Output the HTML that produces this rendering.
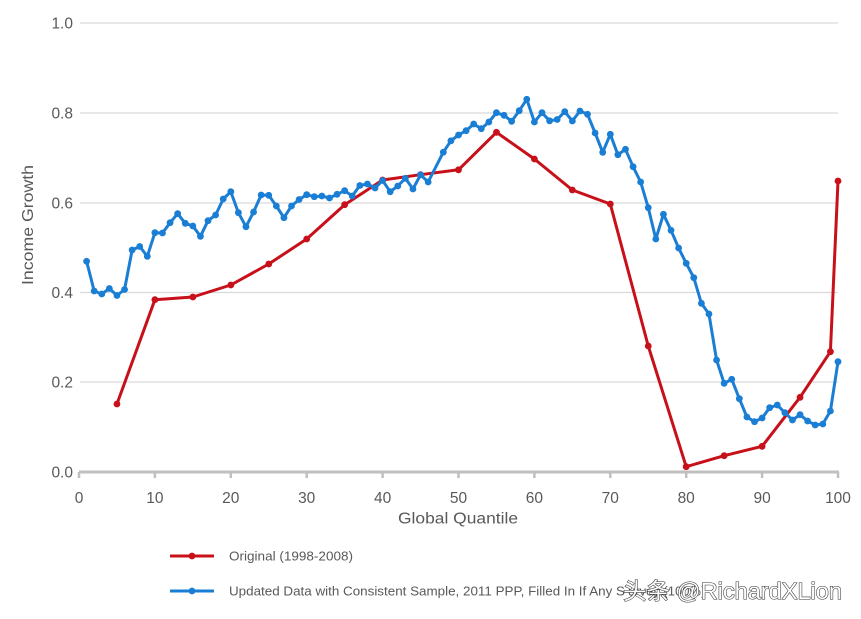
<!DOCTYPE html>
<html><head><meta charset="utf-8">
<style>
html,body{margin:0;padding:0;background:#fff;}
svg{display:block;}
text{font-family:"Liberation Sans","Noto Sans CJK SC",sans-serif;}
</style></head>
<body>
<svg width="861" height="619" viewBox="0 0 861 619" xmlns="http://www.w3.org/2000/svg">
<defs>
<marker id="mb" markerUnits="userSpaceOnUse" markerWidth="10" markerHeight="10" refX="5" refY="5" viewBox="0 0 10 10"><circle cx="5" cy="5" r="3.4" fill="#1a7ed4"/></marker>
<marker id="mr" markerUnits="userSpaceOnUse" markerWidth="10" markerHeight="10" refX="5" refY="5" viewBox="0 0 10 10"><circle cx="5" cy="5" r="3.4" fill="#c8101a"/></marker>
</defs>
<!-- gridlines -->
<g stroke="#d9d9d9" stroke-width="1.2">
<line x1="80" y1="23" x2="838" y2="23"/>
<line x1="80" y1="113" x2="838" y2="113"/>
<line x1="80" y1="203" x2="838" y2="203"/>
<line x1="80" y1="292.5" x2="838" y2="292.5"/>
<line x1="80" y1="382" x2="838" y2="382"/>
</g>
<!-- x axis -->
<line x1="79" y1="472" x2="839" y2="472" stroke="#bfbfbf" stroke-width="3"/>
<g stroke="#bfbfbf" stroke-width="2.5">
<line x1="79" y1="472" x2="79" y2="478"/>
<line x1="154.9" y1="472" x2="154.9" y2="478"/>
<line x1="230.8" y1="472" x2="230.8" y2="478"/>
<line x1="306.7" y1="472" x2="306.7" y2="478"/>
<line x1="382.6" y1="472" x2="382.6" y2="478"/>
<line x1="458.5" y1="472" x2="458.5" y2="478"/>
<line x1="534.4" y1="472" x2="534.4" y2="478"/>
<line x1="610.3" y1="472" x2="610.3" y2="478"/>
<line x1="686.2" y1="472" x2="686.2" y2="478"/>
<line x1="762.1" y1="472" x2="762.1" y2="478"/>
<line x1="838" y1="472" x2="838" y2="478"/>
</g>
<!-- y labels -->
<g fill="#595959" font-size="15.5" text-anchor="end">
<text x="73" y="28.5">1.0</text>
<text x="73" y="118.5">0.8</text>
<text x="73" y="208.5">0.6</text>
<text x="73" y="298">0.4</text>
<text x="73" y="387.5">0.2</text>
<text x="73" y="477.5">0.0</text>
</g>
<!-- x labels -->
<g fill="#595959" font-size="15.5" text-anchor="middle">
<text x="79" y="503">0</text>
<text x="154.9" y="503">10</text>
<text x="230.8" y="503">20</text>
<text x="306.7" y="503">30</text>
<text x="382.6" y="503">40</text>
<text x="458.5" y="503">50</text>
<text x="534.4" y="503">60</text>
<text x="610.3" y="503">70</text>
<text x="686.2" y="503">80</text>
<text x="762.1" y="503">90</text>
<text x="838" y="503">100</text>
</g>
<!-- axis titles -->
<text x="458" y="523.5" fill="#595959" font-size="15.5" text-anchor="middle" textLength="120" lengthAdjust="spacingAndGlyphs">Global Quantile</text>
<text transform="translate(33,225) rotate(-90)" x="0" y="0" fill="#595959" font-size="15.5" text-anchor="middle" textLength="120" lengthAdjust="spacingAndGlyphs">Income Growth</text>

<!-- red series -->
<polyline fill="none" stroke="#c8101a" stroke-width="3" stroke-linejoin="round" marker-start="url(#mr)" marker-mid="url(#mr)" marker-end="url(#mr)"
points="116.95,404 154.9,299.7 192.85,297 230.8,285 268.75,264 306.7,239 344.65,204.7 382.6,180 420.55,174.7 458.5,169.8 496.45,132.3 534.4,159 572.35,190 610.3,204 648.25,346 686.2,466.7 724.15,455.7 762.1,446.3 800.05,397.3 830.41,351.7 838,181"/>

<!-- blue series -->
<polyline fill="none" stroke="#1a7ed4" stroke-width="3" stroke-linejoin="round" marker-start="url(#mb)" marker-mid="url(#mb)" marker-end="url(#mb)"
points="86.59,261.3 94.18,291 101.77,294 109.36,288.5 116.95,295.5 124.54,289.5 132.13,250 139.72,246.5 147.31,256.3 154.9,232.7 162.49,233 170.08,222.7 177.67,213.7 185.26,223.3 192.85,226 200.44,236.3 208.03,220.7 215.62,215 223.21,199 230.8,191.7 238.39,212.7 245.98,226.7 253.57,212 261.16,195 268.75,195.3 276.34,206 283.93,217.7 291.52,206 299.11,199.5 306.7,194.7 314.29,196.7 321.88,196 329.47,198 337.06,194.3 344.65,190.7 352.24,196 359.83,185.5 367.42,184 375.01,188 382.6,180.5 390.19,191.7 397.78,186 405.37,178.3 412.96,189 420.55,174.8 428.14,182 443.32,152.2 450.91,140.8 458.5,135 466.09,130.7 473.68,124 481.27,128.7 488.86,122 496.45,112.7 504.04,115.3 511.63,121.3 519.22,110.7 526.81,99.3 534.4,122 541.99,112.7 549.58,120.8 557.17,119.5 564.76,111.7 572.35,121 579.94,111 587.53,114.3 595.12,133 602.71,152.3 610.3,134.3 617.89,154.7 625.48,149.3 633.07,166.7 640.66,182 648.25,207.7 655.84,239 663.43,214.3 671.02,230.3 678.61,248 686.2,263.3 693.79,277.7 701.38,303.3 708.97,314 716.56,360 724.15,383.3 731.74,379.3 739.33,398.7 746.92,417 754.51,421.7 762.1,418 769.69,407.7 777.28,405 784.87,412.7 792.46,420 800.05,414.7 807.64,421 815.23,425 822.82,424 830.41,411 838,361.7"/>

<!-- legend -->
<line x1="170" y1="556" x2="214" y2="556" stroke="#c8101a" stroke-width="3"/>
<circle cx="192" cy="556" r="3.4" fill="#c8101a"/>
<text x="229" y="560.5" fill="#595959" font-size="13" textLength="124" lengthAdjust="spacingAndGlyphs">Original (1998-2008)</text>
<line x1="170" y1="591" x2="214" y2="591" stroke="#1a7ed4" stroke-width="3"/>
<circle cx="192" cy="591" r="3.4" fill="#1a7ed4"/>
<text x="229" y="595.5" fill="#595959" font-size="13" textLength="396" lengthAdjust="spacingAndGlyphs">Updated Data with Consistent Sample, 2011 PPP, Filled In If Any S</text>
<text x="628" y="595.5" fill="#595959" font-size="13">urvey (100%)</text>

<!-- watermark -->
<text x="623" y="599" font-size="23" fill="#ffffff" stroke="#333333" stroke-width="1.1" paint-order="stroke" textLength="219" lengthAdjust="spacingAndGlyphs" style="font-family:'Liberation Sans','Noto Sans CJK SC',sans-serif;">头条 @RichardXLion</text>
</svg>
</body></html>
